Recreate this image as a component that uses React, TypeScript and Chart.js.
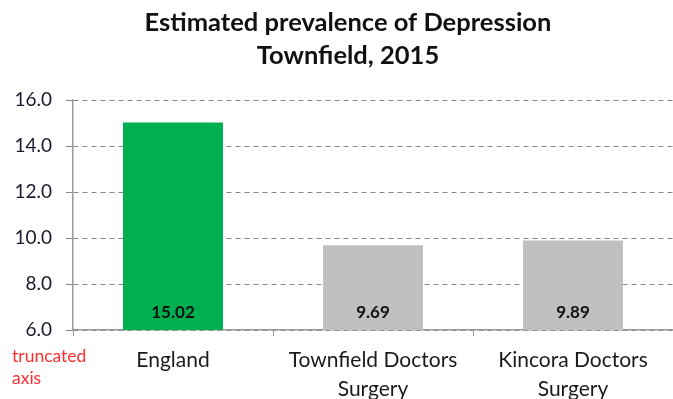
import React, { useEffect, useRef } from "react";
import { Chart, registerables } from "chart.js";

Chart.register(...registerables);

const categories: (string | string[])[] = ["England", ["Townfield Doctors", "Surgery"], ["Kincora Doctors", "Surgery"]];
const values: number[] = [15.02, 9.69, 9.89];
const barColors: string[] = ["#00B050", "#BFBFBF", "#BFBFBF"];
const titleLines: string[] = ["Estimated prevalence of Depression", "Townfield, 2015"];
const noteLines: string[] = ["truncated", "axis"];
const yMin = 6;
const yMax = 16;
const yStep = 2;

const FONT = "Lato, 'Open Sans', sans-serif";

const extrasPlugin = {
  id: "extras",
  afterDatasetsDraw(chart: any) {
    const ctx = chart.ctx;
    const meta = chart.getDatasetMeta(0);
    const yScale = chart.scales.y;
    ctx.save();
    ctx.font = `bold 17px ${FONT}`;
    ctx.fillStyle = "#111";
    ctx.textAlign = "center";
    ctx.textBaseline = "middle";
    meta.data.forEach((bar: any, i: number) => {
      ctx.fillText(values[i].toFixed(2), bar.x, yScale.bottom - 17);
    });
    ctx.font = `17.5px ${FONT}`;
    ctx.fillStyle = "#FF2F2F";
    ctx.textAlign = "left";
    noteLines.forEach((t, i) => {
      ctx.fillText(t, 12, yScale.bottom + 26 + i * 22);
    });
    ctx.font = `bold 25.5px ${FONT}`;
    ctx.fillStyle = "#111";
    ctx.textAlign = "center";
    titleLines.forEach((t, i) => {
      ctx.fillText(t, 348, 23 + i * 33);
    });
    ctx.restore();
  },
};

export default function App() {
  const ref = useRef<HTMLCanvasElement>(null);
  useEffect(() => {
    document.body.style.margin = "0";
    const chart = new Chart(ref.current!, {
      type: "bar",
      data: {
        labels: categories,
        datasets: [
          {
            data: values,
            backgroundColor: barColors,
            barPercentage: 0.5,
            categoryPercentage: 1,
          },
        ],
      },
      options: {
        animation: false,
        responsive: false,
        maintainAspectRatio: false,
        layout: { padding: { left: 0, right: 0, top: 100, bottom: 0 } },
        plugins: {
          legend: { display: false },
          tooltip: { enabled: false },
          title: { display: false },
        },
        scales: {
          x: {
            offset: true,
            grid: {
              display: true,
              drawOnChartArea: false,
              offset: true,
              tickLength: 6,
              color: "#999",
            },
            border: { display: true, color: "#999", width: 1.5 },
            ticks: {
              color: "#1a1a1a",
              font: { family: FONT, size: 21, lineHeight: 1.38 },
              padding: 10,
              maxRotation: 0,
              autoSkip: false,
            },
            afterFit(scale: any) {
              scale.height = 69;
            },
          },
          y: {
            min: yMin,
            max: yMax,
            grid: {
              color: "#888",
              tickLength: 7,
              lineWidth: 1,
            },
            border: { display: true, color: "#999", width: 1.5, dash: [5, 4] },
            ticks: {
              stepSize: yStep,
              color: "#1a1a2e",
              font: { family: FONT, size: 19 },
              padding: 14,
              callback: (v: any) => Number(v).toFixed(1),
            },
            afterFit(scale: any) {
              scale.width = 73;
            },
          },
        },
      },
      plugins: [extrasPlugin],
    });
    return () => chart.destroy();
  }, []);
  return (
    <div style={{ position: "absolute", left: 0, top: 0, width: 673, height: 399, background: "#fff" }}>
      <canvas ref={ref} width={673} height={399} />
    </div>
  );
}
